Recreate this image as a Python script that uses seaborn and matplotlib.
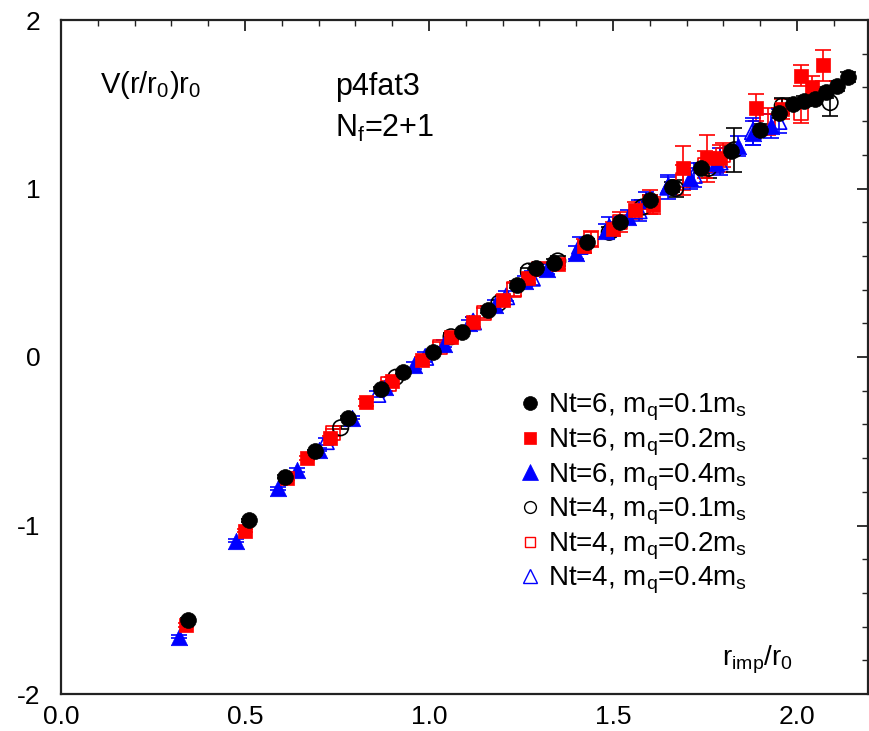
import matplotlib
matplotlib.use("Agg")
import numpy as np
import pandas as pd
import seaborn as sns
import matplotlib.pyplot as plt
from matplotlib.lines import Line2D
from matplotlib.ticker import MultipleLocator

# ---------------- data ----------------
# Nt=6, mq=0.1ms  (filled black circles)
x_n6_01 = [0.345, 0.51, 0.61, 0.69, 0.78, 0.87, 0.93, 1.01, 1.09, 1.16, 1.24, 1.29, 1.34,
           1.43, 1.52, 1.60, 1.66, 1.74, 1.82, 1.90, 1.95, 1.99, 2.02, 2.05, 2.08, 2.11, 2.14]
y_n6_01 = [-1.56, -0.97, -0.71, -0.56, -0.36, -0.19, -0.09, 0.03, 0.15, 0.28, 0.43, 0.53, 0.56,
           0.68, 0.80, 0.93, 1.01, 1.12, 1.22, 1.35, 1.45, 1.50, 1.52, 1.53, 1.57, 1.61, 1.66]
e_n6_01 = [0.01, 0.01, 0.01, 0.01, 0.01, 0.01, 0.01, 0.01, 0.01, 0.02, 0.02, 0.02, 0.02,
           0.02, 0.02, 0.03, 0.03, 0.03, 0.03, 0.03, 0.03, 0.03, 0.03, 0.03, 0.03, 0.03, 0.03]

# Nt=6, mq=0.2ms  (filled red squares)
x_n6_02 = [0.34, 0.50, 0.615, 0.668, 0.73, 0.83, 0.90, 0.98, 1.06, 1.12, 1.20, 1.27, 1.35,
           1.42, 1.50, 1.56, 1.61, 1.69, 1.755, 1.79, 1.89, 1.96, 2.01, 2.04, 2.07]
y_n6_02 = [-1.59, -1.03, -0.72, -0.60, -0.48, -0.27, -0.14, -0.02, 0.12, 0.21, 0.34, 0.47, 0.55,
           0.66, 0.76, 0.87, 0.90, 1.12, 1.18, 1.18, 1.48, 1.47, 1.67, 1.60, 1.73]
e_n6_02 = [0.01, 0.01, 0.01, 0.01, 0.01, 0.02, 0.02, 0.02, 0.02, 0.03, 0.03, 0.03, 0.03,
           0.04, 0.04, 0.05, 0.05, 0.13, 0.14, 0.08, 0.08, 0.06, 0.06, 0.07, 0.09]

# Nt=6, mq=0.4ms  (filled blue triangles)
x_n6_04 = [0.32, 0.475, 0.59, 0.64, 0.70, 0.79, 0.88, 0.96, 1.04, 1.11, 1.18, 1.26, 1.32,
           1.40, 1.48, 1.54, 1.59, 1.65, 1.71, 1.78, 1.84, 1.88, 1.93]
y_n6_04 = [-1.66, -1.09, -0.78, -0.67, -0.55, -0.36, -0.18, -0.05, 0.08, 0.20, 0.31, 0.45, 0.52,
           0.62, 0.75, 0.83, 0.93, 1.02, 1.06, 1.15, 1.25, 1.33, 1.37]
e_n6_04 = [0.01, 0.01, 0.01, 0.01, 0.01, 0.01, 0.02, 0.02, 0.02, 0.02, 0.03, 0.03, 0.03,
           0.04, 0.04, 0.04, 0.05, 0.05, 0.06, 0.06, 0.06, 0.07, 0.07]

# Nt=4, mq=0.1ms  (open black circles)
x_n4_01 = [0.76, 0.91, 1.06, 1.19, 1.27, 1.35, 1.49, 1.58, 1.67, 1.76, 1.83, 1.96, 2.09]
y_n4_01 = [-0.42, -0.12, 0.12, 0.32, 0.51, 0.57, 0.74, 0.89, 1.00, 1.12, 1.23, 1.49, 1.51]
e_n4_01 = [0.01, 0.01, 0.02, 0.02, 0.02, 0.03, 0.03, 0.04, 0.05, 0.06, 0.13, 0.05, 0.08]

# Nt=4, mq=0.2ms  (open red squares)
x_n4_02 = [0.74, 0.89, 1.03, 1.15, 1.23, 1.30, 1.44, 1.52, 1.60, 1.69, 1.75, 1.80, 1.92, 2.01]
y_n4_02 = [-0.45, -0.16, 0.06, 0.26, 0.40, 0.52, 0.70, 0.80, 0.92, 1.05, 1.14, 1.20, 1.40, 1.45]
e_n4_02 = [0.02, 0.02, 0.03, 0.03, 0.04, 0.04, 0.05, 0.06, 0.07, 0.09, 0.08, 0.07, 0.08, 0.06]

# Nt=4, mq=0.4ms  (open blue triangles)
x_n4_04 = [0.72, 0.86, 0.99, 1.12, 1.21, 1.28, 1.41, 1.49, 1.57, 1.65, 1.72, 1.79, 1.88, 1.95]
y_n4_04 = [-0.50, -0.22, 0.00, 0.21, 0.36, 0.47, 0.66, 0.77, 0.87, 1.01, 1.08, 1.16, 1.34, 1.40]
e_n4_04 = [0.02, 0.02, 0.03, 0.03, 0.03, 0.04, 0.05, 0.06, 0.06, 0.07, 0.07, 0.08, 0.08, 0.07]

labels = ["Nt=6, m$_\\mathregular{q}$=0.1m$_\\mathregular{s}$",
          "Nt=6, m$_\\mathregular{q}$=0.2m$_\\mathregular{s}$",
          "Nt=6, m$_\\mathregular{q}$=0.4m$_\\mathregular{s}$",
          "Nt=4, m$_\\mathregular{q}$=0.1m$_\\mathregular{s}$",
          "Nt=4, m$_\\mathregular{q}$=0.2m$_\\mathregular{s}$",
          "Nt=4, m$_\\mathregular{q}$=0.4m$_\\mathregular{s}$"]

x_ticks = [0.0, 0.5, 1.0, 1.5, 2.0]
x_tick_labels = ["0.0", "0.5", "1.0", "1.5", "2.0"]
y_ticks = [-2, -1, 0, 1, 2]
y_tick_labels = ["-2", "-1", "0", "1", "2"]

# ---------------- style ----------------
sns.set_theme(style="white")
plt.rcParams["font.family"] = ["Liberation Sans", "DejaVu Sans"]
plt.rcParams["mathtext.fontset"] = "custom"
plt.rcParams["mathtext.rm"] = "Liberation Sans"
plt.rcParams["mathtext.it"] = "Liberation Sans"
plt.rcParams["axes.unicode_minus"] = False
plt.rcParams["text.color"] = "black"

W, H = 870, 731
fig = plt.figure(figsize=(W / 100, H / 100), dpi=100)
L, R, T, B = 61, 868, 20, 694
ax = fig.add_axes([L / W, 1 - B / H, (R - L) / W, (B - T) / H])

series = [
    (x_n6_01, y_n6_01, e_n6_01, "black", "o", True, 130),
    (x_n6_02, y_n6_02, e_n6_02, "#ff0000", "s", True, 105),
    (x_n6_04, y_n6_04, e_n6_04, "#0000ff", "^", True, 140),
    (x_n4_01, y_n4_01, e_n4_01, "black", "o", False, 125),
    (x_n4_02, y_n4_02, e_n4_02, "#ff0000", "s", False, 105),
    (x_n4_04, y_n4_04, e_n4_04, "#0000ff", "^", False, 135),
]

for i, (xs, ys, es, col, mk, filled, size) in enumerate(series):
    df = pd.DataFrame({"x": xs, "y": ys, "e": es})
    ax.errorbar(df["x"], df["y"], yerr=df["e"], fmt="none", ecolor=col,
                elinewidth=1.2, capsize=6, capthick=1.2, zorder=2)
    if filled:
        sns.scatterplot(data=df, x="x", y="y", marker=mk, s=size, color=col,
                        edgecolor=col, linewidth=0.5, ax=ax, zorder=4 - i * 0.1, legend=False)
    else:
        sns.scatterplot(data=df, x="x", y="y", marker=mk, s=size, facecolor="none",
                        edgecolor=col, linewidth=1.2, ax=ax, zorder=3.5 - i * 0.1, legend=False)

ax.set_xlim(0.0, 2.193)
ax.set_ylim(-2, 2)
ax.set_xticks(x_ticks)
ax.set_xticklabels(x_tick_labels)
ax.set_yticks(y_ticks)
ax.set_yticklabels(y_tick_labels)
ax.xaxis.set_minor_locator(MultipleLocator(0.1))
ax.yaxis.set_minor_locator(MultipleLocator(0.2))
ax.tick_params(which="both", direction="in", top=True, right=True, colors="#222222",
               labelcolor="black", labelsize=19)
ax.tick_params(which="major", length=8, width=1.3)
ax.tick_params(which="minor", length=4.5, width=1.0)
ax.tick_params(axis="x", which="major", pad=8)
ax.tick_params(axis="y", which="major", pad=15)
for sp in ax.spines.values():
    sp.set_linewidth(1.6)
    sp.set_color("#222222")
ax.set_xlabel("")
ax.set_ylabel("")

# annotations
ax.text(0.106, 1.567, "V(r/r$_\\mathregular{0}$)r$_\\mathregular{0}$", fontsize=21,
        va="baseline", color="black")
ax.text(0.745, 1.555, "p4fat3", fontsize=22, va="baseline", color="black")
ax.text(0.745, 1.306, "N$_\\mathregular{f}$=2+1", fontsize=22, va="baseline", color="black")
ax.text(1.99, -1.83, "r$_\\mathregular{imp}$/r$_\\mathregular{0}$", fontsize=20,
        va="baseline", ha="right", color="black")

# legend
handles = []
for (xs, ys, es, col, mk, filled, size), lab in zip(series, labels):
    ms = {"o": 10, "s": 9, "^": 11}[mk]
    if not filled:
        ms -= 1.5
    handles.append(Line2D([], [], linestyle="none", marker=mk, markersize=ms,
                          markerfacecolor=col if filled else "none",
                          markeredgecolor=col, markeredgewidth=1.0 if not filled else 0.5,
                          label=lab))
leg = ax.legend(handles=handles, loc="upper left",
                bbox_to_anchor=((522 - L) / (R - L), (B - 392) / (B - T)),
                frameon=False, fontsize=20, handlelength=0.6, handletextpad=0.35,
                labelspacing=0.12, borderpad=0, borderaxespad=0)
for t in leg.get_texts():
    t.set_color("black")

fig.savefig("out.png", dpi=100)
